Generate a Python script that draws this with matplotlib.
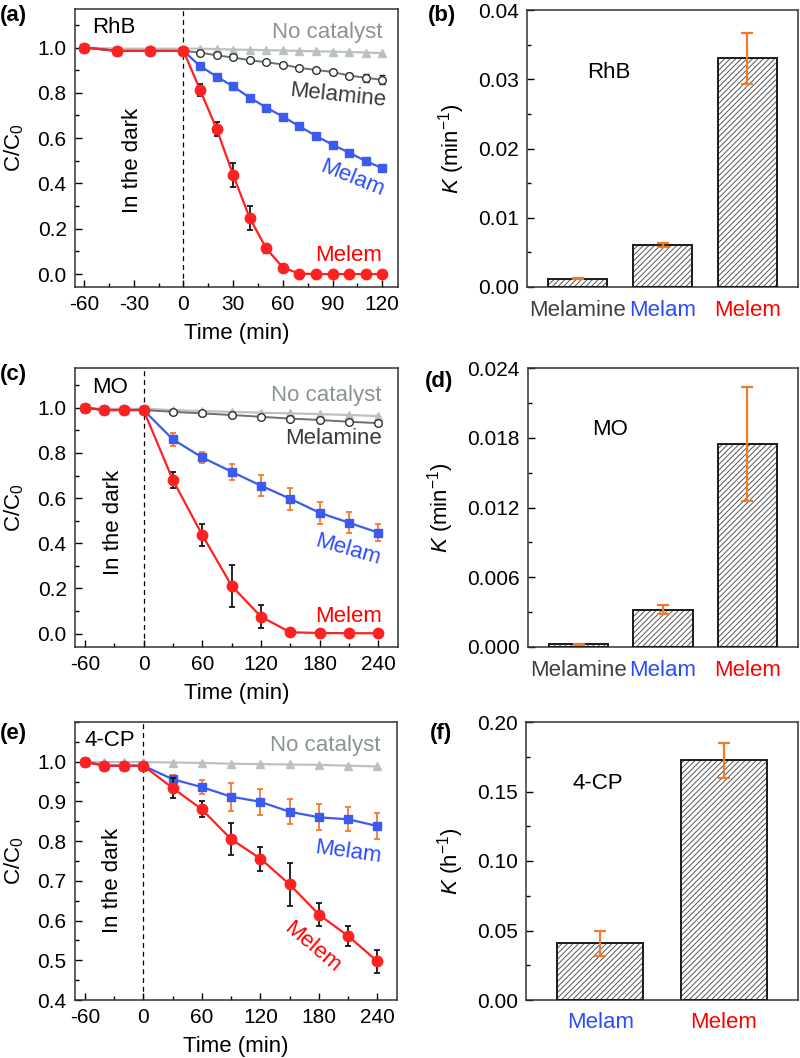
import numpy as np
import matplotlib.pyplot as plt
from matplotlib.ticker import AutoMinorLocator, FormatStrFormatter

plt.rcParams['font.family'] = ['Liberation Sans', 'DejaVu Sans']
plt.rcParams['mathtext.fontset'] = 'custom'
plt.rcParams['mathtext.rm'] = 'Liberation Sans'
plt.rcParams['mathtext.it'] = 'Liberation Sans:italic'
plt.rcParams['hatch.linewidth'] = 0.7
plt.rcParams['axes.unicode_minus'] = False

# ---- data: (a) RhB ----
t_rhb = [-60, -40, -20, 0, 10, 20, 30, 40, 50, 60, 70, 80, 90, 100, 110, 120]
rhb_none = [1.0, 0.995, 0.995, 0.995, 0.995, 0.993, 0.991, 0.99, 0.988, 0.987, 0.985, 0.983, 0.982, 0.98, 0.978, 0.975]
rhb_melamine = [1.0, 0.985, 0.985, 0.985, 0.978, 0.965, 0.956, 0.944, 0.935, 0.925, 0.910, 0.901, 0.892, 0.876, 0.867, 0.857]
rhb_melamine_err = [0, 0.01, 0.01, 0.01, 0.008, 0.008, 0.008, 0.008, 0.008, 0.008, 0.008, 0.008, 0.01, 0.012, 0.018, 0.02]
rhb_melam = [1.0, 0.985, 0.985, 0.985, 0.918, 0.872, 0.828, 0.779, 0.735, 0.695, 0.652, 0.610, 0.571, 0.536, 0.499, 0.467]
rhb_melam_err = [0, 0.008, 0.008, 0.008, 0.01, 0.01, 0.01, 0.01, 0.01, 0.01, 0.01, 0.01, 0.01, 0.01, 0.01, 0.01]
rhb_melem = [1.0, 0.985, 0.985, 0.985, 0.813, 0.641, 0.437, 0.247, 0.113, 0.029, 0.002, 0, 0, 0, 0, 0]
rhb_melem_err = [0, 0.012, 0.012, 0.012, 0.025, 0.03, 0.052, 0.053, 0.02, 0.015, 0.01, 0.008, 0.008, 0.008, 0.008, 0.008]

# ---- data: (c) MO ----
t_mo = [-60, -40, -20, 0, 30, 60, 90, 120, 150, 180, 210, 240]
mo_none = [1.0, 0.995, 0.995, 0.995, 0.99, 0.985, 0.982, 0.978, 0.975, 0.972, 0.968, 0.963]
mo_melamine = [1.0, 0.99, 0.99, 0.99, 0.982, 0.975, 0.968, 0.96, 0.952, 0.946, 0.938, 0.932]
mo_melamine_err = [0, 0.01, 0.01, 0.01, 0.01, 0.01, 0.01, 0.01, 0.01, 0.01, 0.01, 0.01]
mo_melam = [1.0, 0.99, 0.99, 0.99, 0.86, 0.78, 0.717, 0.655, 0.597, 0.535, 0.491, 0.447]
mo_melam_err = [0, 0.008, 0.008, 0.008, 0.028, 0.026, 0.035, 0.046, 0.049, 0.048, 0.046, 0.038]
mo_melem = [1.0, 0.99, 0.99, 0.99, 0.68, 0.437, 0.212, 0.075, 0.006, 0.003, 0.002, 0.002]
mo_melem_err = [0, 0.012, 0.012, 0.012, 0.037, 0.05, 0.092, 0.052, 0.008, 0.008, 0.008, 0.008]

# ---- data: (e) 4-CP ----
t_cp = [-60, -40, -20, 0, 30, 60, 90, 120, 150, 180, 210, 240]
cp_none = [1.0, 0.999, 0.999, 0.999, 0.998, 0.997, 0.995, 0.994, 0.993, 0.992, 0.99, 0.988]
cp_melam = [1.0, 0.99, 0.99, 0.99, 0.956, 0.936, 0.912, 0.899, 0.874, 0.860, 0.855, 0.838]
cp_melam_err = [0, 0.004, 0.004, 0.004, 0.01, 0.018, 0.035, 0.033, 0.032, 0.033, 0.03, 0.032]
cp_melem = [1.0, 0.99, 0.99, 0.99, 0.934, 0.880, 0.805, 0.756, 0.691, 0.615, 0.561, 0.497]
cp_melem_err = [0, 0.006, 0.006, 0.006, 0.025, 0.02, 0.04, 0.03, 0.055, 0.028, 0.025, 0.028]

# ---- rate constants ----
rhb_cats = ["Melamine", "Melam", "Melem"]
rhb_k = [0.0012, 0.0061, 0.033]
rhb_k_err = [0.0001, 0.0003, 0.0037]
mo_cats = ["Melamine", "Melam", "Melem"]
mo_k = [0.00025, 0.0032, 0.01745]
mo_k_err = [0.00005, 0.0004, 0.0049]
cp_cats = ["Melam", "Melem"]
cp_k = [0.041, 0.1725]
cp_k_err = [0.009, 0.0125]

RED = "#ff2020"
BLUE = "#3a5af0"
ORANGE = "#f47a2a"
LGRAY = "#b9c1c1"
TXT_GRAY = "#8a9494"
TXT_BLUE = "#2a4cff"
TXT_RED = "#ff0000"
label_colors = {"Melamine": "#404040", "Melam": TXT_BLUE, "Melem": TXT_RED}

FS = 15      # tick labels
FT = 16      # annotations / axis labels
W, H = 800, 1058
fig = plt.figure(figsize=(W / 100, H / 100), dpi=100)


def box(l, t, r, b):
    return [l / W, 1 - b / H, (r - l) / W, (b - t) / H]


def style_axes(ax):
    ax.tick_params(which="both", direction="in", top=False, right=False, labelsize=FS, pad=6)
    ax.tick_params(which="major", length=5, width=1)
    ax.tick_params(which="minor", length=3, width=1)
    for s in ax.spines.values():
        s.set_linewidth(1.1)
        s.set_color("#333333")


def line_panel(ax, t, series, xlim, xticks, ylim, yticks):
    for kind, y, err in series:
        if kind == "none":
            ax.plot(t, y, color=LGRAY, marker="^", ms=6, lw=1.6, zorder=2)
        elif kind == "melamine":
            ax.errorbar(t, y, yerr=err, color="#6a6f6f", marker="o", ms=5.5, mfc="white",
                        mec="#303030", mew=1, lw=1.4, ecolor="#202020", elinewidth=1.2,
                        capsize=2.5, capthick=1.2, zorder=3)
        elif kind == "melam":
            ax.errorbar(t, y, yerr=err, color=BLUE, marker="s", ms=6, lw=1.6,
                        ecolor=ORANGE, elinewidth=1.3, capsize=2.5, capthick=1.3, zorder=4)
        elif kind == "melem":
            ax.errorbar(t, y, yerr=err, color=RED, marker="o", ms=7.5, lw=1.6,
                        ecolor="#151515", elinewidth=1.3, capsize=2.5, capthick=1.3, zorder=5)
    ax.axvline(0, color="black", ls=(0, (4, 3)), lw=0.9, zorder=1)
    ax.set_xlim(*xlim)
    ax.set_ylim(*ylim)
    ax.set_xticks(xticks)
    ax.set_yticks(yticks)
    ax.yaxis.set_major_formatter(FormatStrFormatter("%.1f"))
    ax.xaxis.set_minor_locator(AutoMinorLocator(2))
    ax.yaxis.set_minor_locator(AutoMinorLocator(2))
    style_axes(ax)
    ax.set_xlabel("Time (min)", fontsize=FT, labelpad=6)
    ax.set_ylabel(r"C/C$_\mathregular{0}$", fontsize=FT, labelpad=8)


def bar_panel(ax, cats, k, kerr, ylim, yticks, fmt, ylabel):
    x = np.arange(1, len(cats) + 1)
    ax.bar(x, k, width=0.7, color="white", edgecolor="#555555", hatch="//////", lw=0, zorder=2)
    ax.bar(x, k, width=0.7, color="none", edgecolor="#1a1a1a", lw=1.4, zorder=3)
    ax.errorbar(x, k, yerr=kerr, fmt="none", ecolor=ORANGE, elinewidth=1.6,
                capsize=4, capthick=1.6, zorder=4)
    ax.set_xlim(0.4, len(cats) + 0.6)
    ax.set_ylim(*ylim)
    ax.set_yticks(yticks)
    ax.yaxis.set_major_formatter(FormatStrFormatter(fmt))
    ax.yaxis.set_minor_locator(AutoMinorLocator(2))
    style_axes(ax)
    ax.set_xticks(x)
    ax.set_xticklabels(cats, fontsize=FT)
    ax.tick_params(axis="x", which="both", length=0, pad=9)
    for lab in ax.get_xticklabels():
        lab.set_color(label_colors[lab.get_text()])
    ax.set_ylabel(ylabel, fontsize=FT, labelpad=8)


# (a)
ax_a = fig.add_axes(box(75, 9, 398, 287))
line_panel(ax_a, t_rhb,
           [("none", rhb_none, None), ("melamine", rhb_melamine, rhb_melamine_err),
            ("melam", rhb_melam, rhb_melam_err), ("melem", rhb_melem, rhb_melem_err)],
           (-65.5, 129.5), [-60, -30, 0, 30, 60, 90, 120], (-0.057, 1.17), np.arange(0, 1.01, 0.2))
ax_a.text(-55, 1.09, "RhB", fontsize=FT, va="center")
ax_a.text(120, 1.065, "No catalyst", fontsize=FT, color=TXT_GRAY, ha="right", va="center")
ax_a.text(93, 0.79, "Melamine", fontsize=FT, color="#3a3a3a", ha="center", va="center", rotation=-6)
ax_a.text(102, 0.424, "Melam", fontsize=FT, color=TXT_BLUE, ha="center", va="center", rotation=-22)
ax_a.text(120, 0.084, "Melem", fontsize=FT, color=TXT_RED, ha="right", va="center")
ax_a.text(-31, 0.50, "In the dark", fontsize=FT, rotation=90, ha="center", va="center")

# (c)
ax_c = fig.add_axes(box(75, 368, 398, 647))
line_panel(ax_c, t_mo,
           [("none", mo_none, None), ("melamine", mo_melamine, mo_melamine_err),
            ("melam", mo_melam, mo_melam_err), ("melem", mo_melem, mo_melem_err)],
           (-70, 260), [-60, 0, 60, 120, 180, 240], (-0.059, 1.176), np.arange(0, 1.01, 0.2))
ax_c.text(-53, 1.09, "MO", fontsize=FT, va="center")
ax_c.text(243, 1.056, "No catalyst", fontsize=FT, color=TXT_GRAY, ha="right", va="center")
ax_c.text(244, 0.866, "Melamine", fontsize=FT, color="#3a3a3a", ha="right", va="center")
ax_c.text(209, 0.37, "Melam", fontsize=FT, color=TXT_BLUE, ha="center", va="center", rotation=-16)
ax_c.text(244, 0.074, "Melem", fontsize=FT, color=TXT_RED, ha="right", va="center")
ax_c.text(-31, 0.494, "In the dark", fontsize=FT, rotation=90, ha="center", va="center")

# (e)
ax_e = fig.add_axes(box(75, 722, 397, 1000))
line_panel(ax_e, t_cp,
           [("none", cp_none, None), ("melam", cp_melam, cp_melam_err), ("melem", cp_melem, cp_melem_err)],
           (-70, 260), [-60, 0, 60, 120, 180, 240], (0.4, 1.1), np.arange(0.4, 1.01, 0.1))
ax_e.text(-60, 1.053, "4-CP", fontsize=FT, va="center")
ax_e.text(243, 1.04, "No catalyst", fontsize=FT, color=TXT_GRAY, ha="right", va="center")
ax_e.text(210, 0.772, "Melam", fontsize=FT, color=TXT_BLUE, ha="center", va="center", rotation=-8)
ax_e.text(173, 0.533, "Melem", fontsize=FT, color=TXT_RED, ha="center", va="center", rotation=-40)
ax_e.text(-32, 0.70, "In the dark", fontsize=FT, rotation=90, ha="center", va="center")

# (b)
ax_b = fig.add_axes(box(527, 10, 798, 287))
bar_panel(ax_b, rhb_cats, rhb_k, rhb_k_err, (0, 0.04), np.arange(0, 0.041, 0.01), "%.2f",
          r"$K$ (min$^{\mathregular{-1}}$)")
ax_b.text(1.37, 0.031, "RhB", fontsize=FT, ha="center", va="center")

# (d)
ax_d = fig.add_axes(box(528, 368, 798, 647))
bar_panel(ax_d, mo_cats, mo_k, mo_k_err, (0, 0.024), np.arange(0, 0.0241, 0.006), "%.3f",
          r"$K$ (min$^{\mathregular{-1}}$)")
ax_d.text(1.37, 0.0187, "MO", fontsize=FT, ha="center", va="center")

# (f)
ax_f = fig.add_axes(box(526, 722, 798, 1000))
bar_panel(ax_f, cp_cats, cp_k, cp_k_err, (0, 0.2), np.arange(0, 0.201, 0.05), "%.2f",
          r"$K$ (h$^{\mathregular{-1}}$)")
ax_f.text(0.98, 0.156, "4-CP", fontsize=FT, ha="center", va="center")

# panel letters
for lbl, x, y in [("(a)", 0, 15), ("(b)", 428, 15), ("(c)", 0, 375),
                  ("(d)", 425, 382), ("(e)", 0, 733), ("(f)", 430, 733)]:
    fig.text(x / W, 1 - y / H, lbl, fontsize=FT, fontweight="bold", va="center", ha="left")

fig.savefig("out.png", dpi=100)
